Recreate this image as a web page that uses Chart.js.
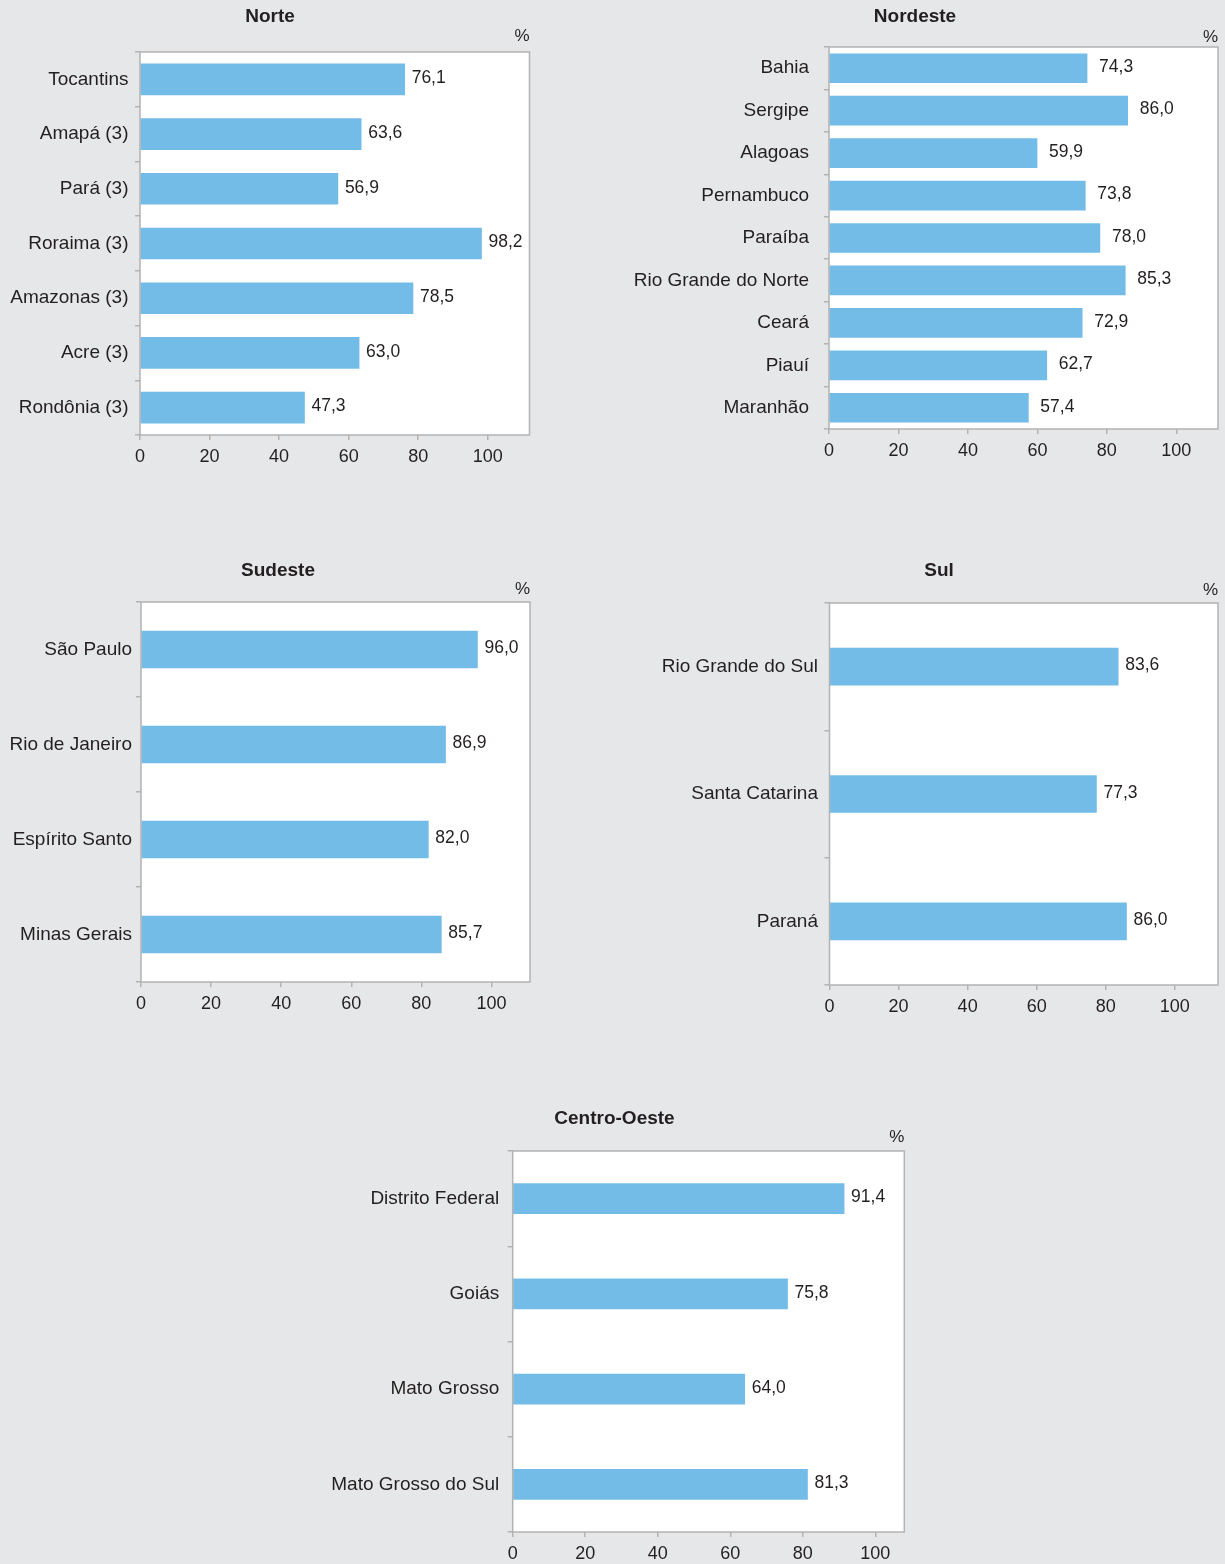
<!DOCTYPE html>
<html><head><meta charset="utf-8">
<script src="https://cdn.jsdelivr.net/npm/chart.js@4.4.0/dist/chart.umd.min.js"></script>
<style>
html,body{margin:0;padding:0;background:#e6e7e8;width:1225px;height:1564px;overflow:hidden;position:relative;}
canvas{position:absolute;}
</style></head><body>
<canvas id="cNorte"></canvas>
<canvas id="cNordeste"></canvas>
<canvas id="cSudeste"></canvas>
<canvas id="cSul"></canvas>
<canvas id="cCentro"></canvas>
<script>
// ---- data ----
const xTickValues = [0, 20, 40, 60, 80, 100];

const norteTitle = 'Norte';
const norteLabels = ['Tocantins', 'Amapá (3)', 'Pará (3)', 'Roraima (3)', 'Amazonas (3)', 'Acre (3)', 'Rondônia (3)'];
const norteValues = [76.1, 63.6, 56.9, 98.2, 78.5, 63.0, 47.3];

const nordesteTitle = 'Nordeste';
const nordesteLabels = ['Bahia', 'Sergipe', 'Alagoas', 'Pernambuco', 'Paraíba', 'Rio Grande do Norte', 'Ceará', 'Piauí', 'Maranhão'];
const nordesteValues = [74.3, 86.0, 59.9, 73.8, 78.0, 85.3, 72.9, 62.7, 57.4];

const sudesteTitle = 'Sudeste';
const sudesteLabels = ['São Paulo', 'Rio de Janeiro', 'Espírito Santo', 'Minas Gerais'];
const sudesteValues = [96.0, 86.9, 82.0, 85.7];

const sulTitle = 'Sul';
const sulLabels = ['Rio Grande do Sul', 'Santa Catarina', 'Paraná'];
const sulValues = [83.6, 77.3, 86.0];

const centroTitle = 'Centro-Oeste';
const centroLabels = ['Distrito Federal', 'Goiás', 'Mato Grosso', 'Mato Grosso do Sul'];
const centroValues = [91.4, 75.8, 64.0, 81.3];

const unitLabel = '%';

// ---- style ----
const FF = '"Liberation Sans", Arial, Helvetica, sans-serif';
const TXT = '#231f20';
const BAR = '#74bce8';
const GRID = '#b3b3b3';

const fmt = v => v.toFixed(1).replace('.', ',');

const framePlugin = {
  id: 'frame',
  afterLayout(chart, args, opts) {
    if (chart.titleBlock && opts.titleLeft !== undefined) {
      chart.titleBlock.left = opts.titleLeft;
    }
  },
  beforeDraw(chart) {
    const a = chart.chartArea, c = chart.ctx;
    c.save(); c.fillStyle = '#ffffff';
    c.fillRect(a.left, a.top, a.right - a.left, a.bottom - a.top);
    c.restore();
  },
  afterDatasetsDraw(chart) {
    const a = chart.chartArea, c = chart.ctx;
    c.save(); c.strokeStyle = GRID; c.lineWidth = 1.5;
    c.strokeRect(a.left, a.top, a.right - a.left, a.bottom - a.top);
    c.restore();
  }
};

const valuePlugin = {
  id: 'vlabels',
  afterDatasetsDraw(chart, args, opts) {
    const c = chart.ctx, meta = chart.getDatasetMeta(0), ds = chart.data.datasets[0].data;
    c.save();
    c.font = '17.5px ' + FF; c.fillStyle = TXT; c.textAlign = 'left'; c.textBaseline = 'middle';
    meta.data.forEach((bar, i) => { c.fillText(fmt(ds[i]), bar.x + opts.offset, bar.y - 1); });
    c.restore();
  }
};

function makeChart(id, p, title, labels, values) {
  const cv = document.getElementById(id);
  cv.width = p.W; cv.height = p.H;
  cv.style.left = p.cx + 'px'; cv.style.top = p.cy + 'px';
  cv.style.width = p.W + 'px'; cv.style.height = p.H + 'px';
  return new Chart(cv, {
    type: 'bar',
    data: { labels: labels, datasets: [{ data: values, backgroundColor: BAR, borderWidth: 0, barThickness: p.bar }] },
    options: {
      indexAxis: 'y', responsive: false, animation: false, devicePixelRatio: 1,
      layout: { padding: { left: 0, right: p.R, top: 0, bottom: 0 } },
      plugins: {
        legend: { display: false }, tooltip: { enabled: false },
        title: { display: true, text: title, color: TXT, font: { family: FF, size: 19, weight: 'bold', lineHeight: 1 }, padding: { top: p.t1, bottom: p.t2 } },
        subtitle: { display: true, text: unitLabel, align: 'end', color: TXT, font: { family: FF, size: 17, lineHeight: 1 }, padding: { top: 0, bottom: p.s2 } },
        frame: { titleLeft: p.tl },
        vlabels: { offset: p.lo }
      },
      scales: {
        x: {
          min: 0, max: p.max,
          ticks: { stepSize: 20, includeBounds: false, color: TXT, font: { family: FF, size: 18, lineHeight: 1.2 }, padding: 6.5, maxRotation: 0,
                   callback: v => xTickValues.includes(v) ? String(v) : '' },
          grid: { drawOnChartArea: false, drawTicks: true, tickLength: 5, color: GRID, lineWidth: 1.5 },
          border: { display: false },
          afterFit: s => { s.height = 32; }
        },
        y: {
          ticks: { color: TXT, font: { family: FF, size: 19 }, padding: p.ypad, autoSkip: false },
          grid: { drawOnChartArea: false, drawTicks: true, tickLength: 5, color: GRID, lineWidth: 1.5, offset: true },
          border: { display: false },
          afterFit: s => { s.width = p.yW; }
        }
      }
    },
    plugins: [framePlugin, valuePlugin]
  });
}

makeChart('cNorte',    { cx: 0,   cy: 0,    W: 540, H: 467, tl: 10.5, R: 10.5, yW: 140,   max: 112,   bar: 31, lo: 7,  ypad: 6.5, t1: 7.5, t2: 1, s2: 7.5 }, norteTitle, norteLabels, norteValues);
makeChart('cNordeste', { cx: 600, cy: 0,    W: 625, H: 461, tl: 12,   R: 7,    yW: 229,   max: 112,   bar: 29, lo: 12, ypad: 15,  t1: 7.5, t2: 2, s2: 1.5 }, nordesteTitle, nordesteLabels, nordesteValues);
makeChart('cSudeste',  { cx: 0,   cy: 554,  W: 540, H: 460, tl: 26,   R: 10,   yW: 141,   max: 111,   bar: 37, lo: 7,  ypad: 4,   t1: 7.5, t2: 0, s2: 4.5 }, sudesteTitle, sudesteLabels, sudesteValues);
makeChart('cSul',      { cx: 600, cy: 554,  W: 625, H: 463, tl: 60,   R: 7,    yW: 229.5, max: 112.5, bar: 37, lo: 7,  ypad: 6.5, t1: 7.5, t2: 1, s2: 4.5 }, sulTitle, sulLabels, sulValues);
makeChart('cCentro',   { cx: 300, cy: 1102, W: 620, H: 462, tl: 24.7, R: 15.7, yW: 212.7, max: 108,   bar: 30, lo: 7,  ypad: 8.5, t1: 7.5, t2: 0, s2: 5.5 }, centroTitle, centroLabels, centroValues);
</script>
</body></html>
